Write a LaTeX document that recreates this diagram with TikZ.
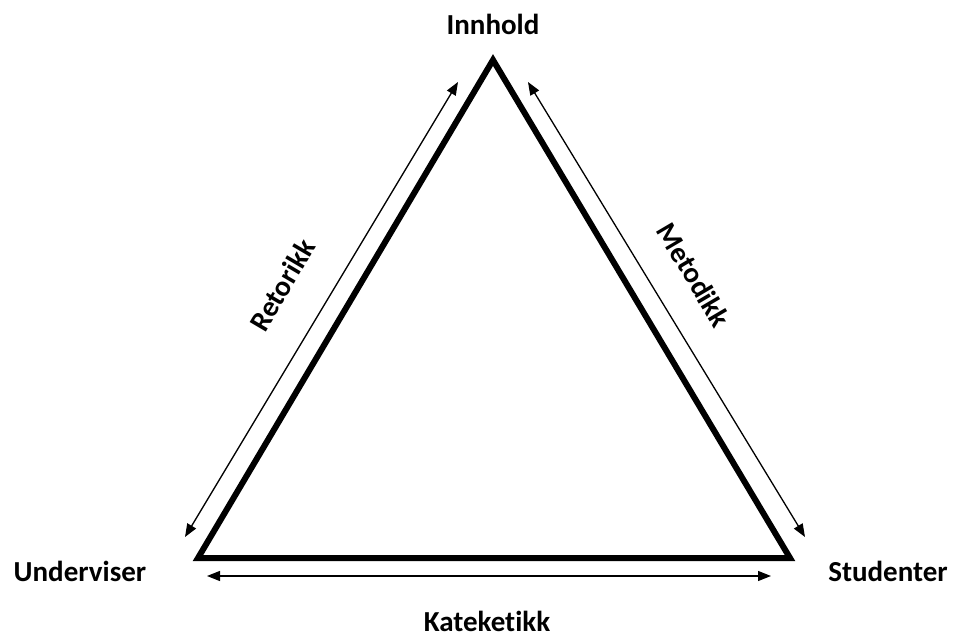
\documentclass[tikz,border=0pt]{standalone}
\usepackage{fontspec}
\setmainfont{Carlito}[Ligatures=NoCommon]
\usetikzlibrary{arrows.meta}
\begin{document}
\begin{tikzpicture}[x=1pt,y=-1pt,
  lbl/.style={font=\fontsize{29}{34}\selectfont\bfseries, inner sep=0pt},
  tri/.style={line width=6pt, line join=miter},
  dbl/.style={line width=1.3pt, {Triangle[length=13pt,width=10pt]}-{Triangle[length=13pt,width=10pt]}}]
\useasboundingbox (0,0) rectangle (955,637);
\coordinate (T) at (493,60);
\coordinate (L) at (198,558);
\coordinate (R) at (790,558);
\draw[tri] (T) -- (L) -- (R) -- cycle;
\coordinate (a1) at (185,537);
\coordinate (a2) at (458,82);
\coordinate (b1) at (528,82);
\coordinate (b2) at (805,537);
\coordinate (c1) at (207,576);
\coordinate (c2) at (771,576);
\draw[dbl] (a1) -- (a2);
\draw[dbl] (b1) -- (b2);
\draw[dbl] (c1) -- (c2);
\node[lbl, anchor=base] (inn) at (493,34) {Innhold};
\node[lbl, anchor=base] (und) at (80,581) {Underviser};
\node[lbl, anchor=base] (stu) at (888,581) {Studenter};
\node[lbl, anchor=base] (kat) at (487,631) {Kateketikk};
\node[lbl, rotate=59.5] (ret) at (282,285) {Retorikk};
\node[lbl, rotate=-59.5] (met) at (694,275) {Metodikk};
\end{tikzpicture}
\end{document}
